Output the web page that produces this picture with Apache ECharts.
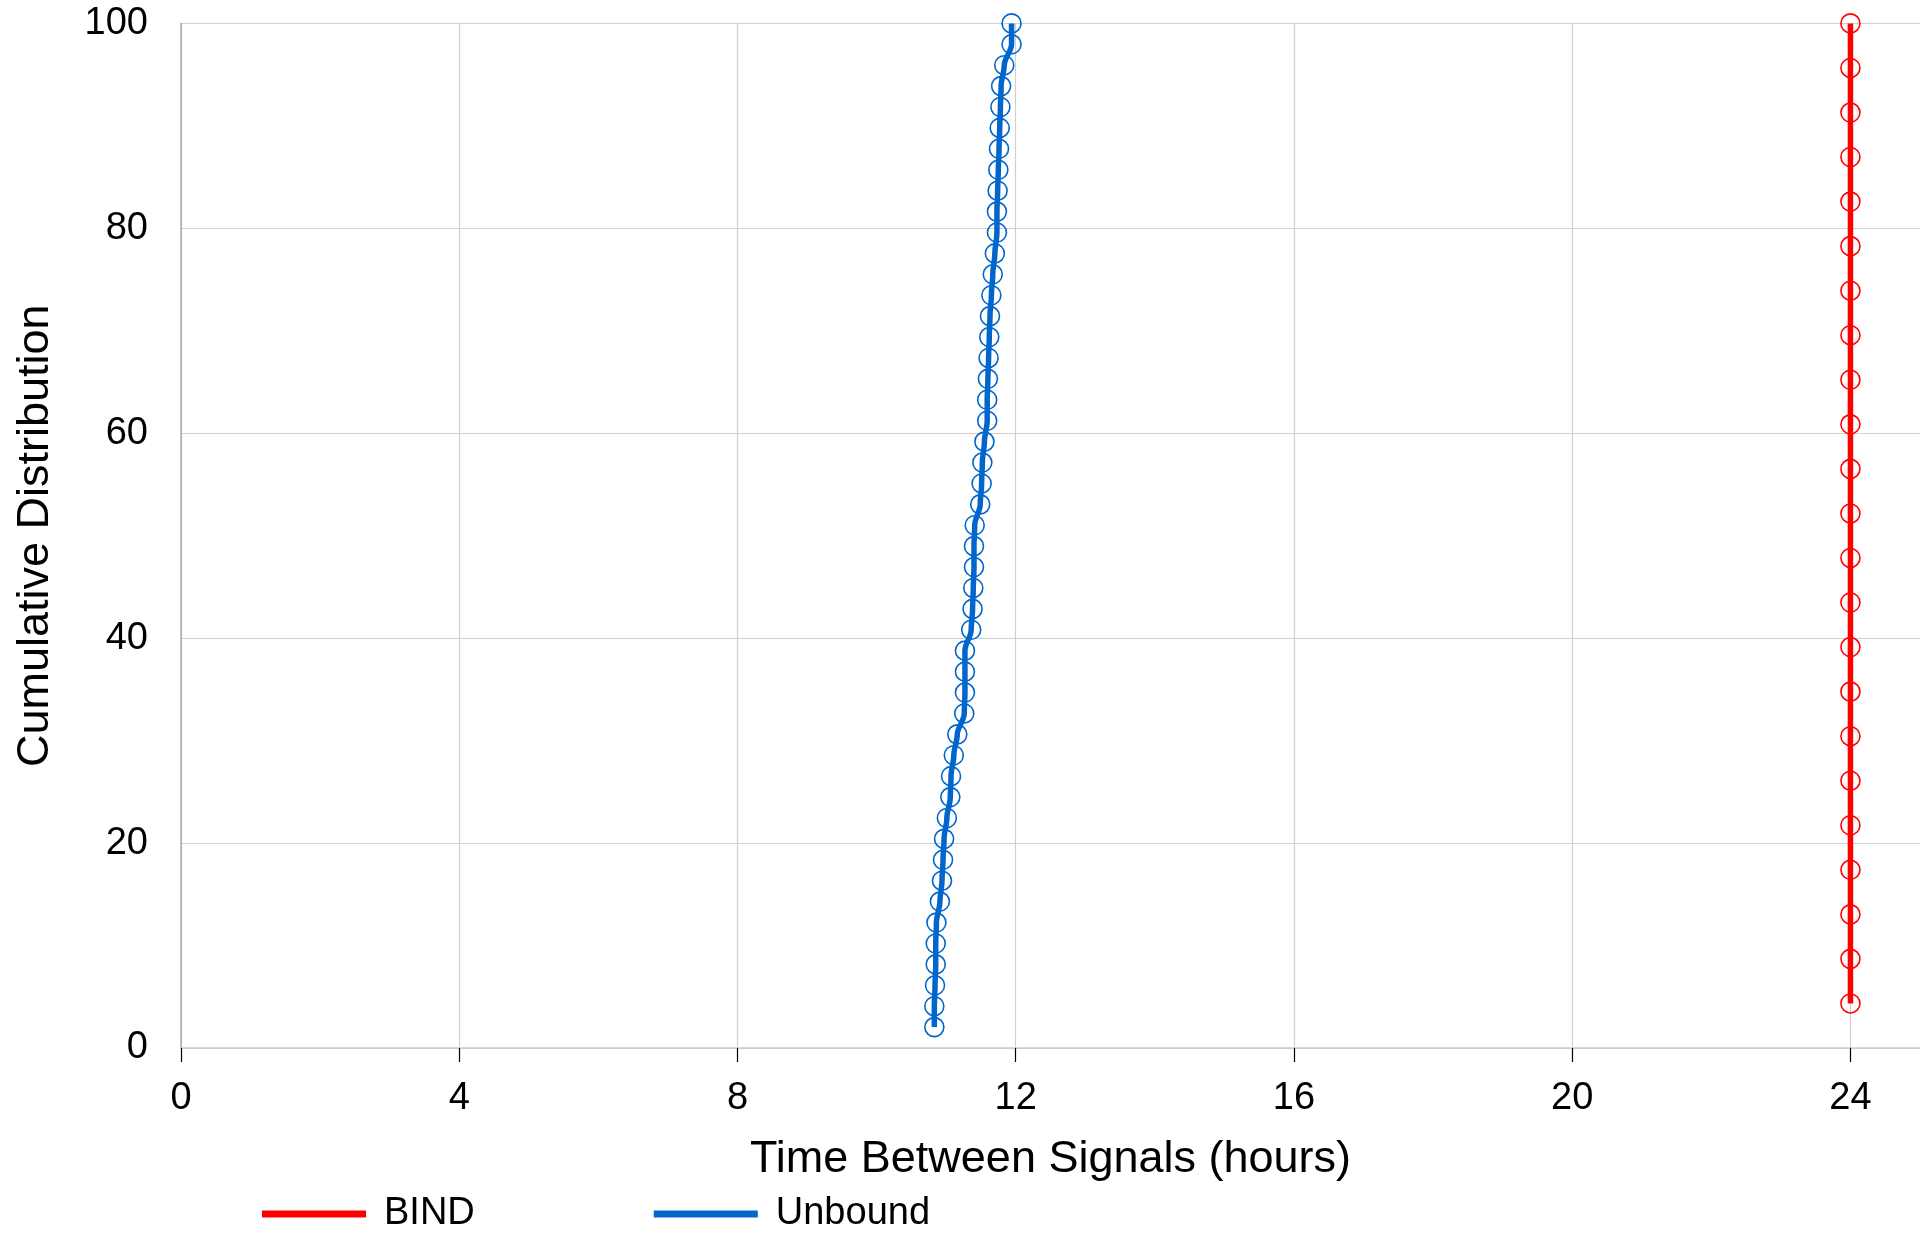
<!DOCTYPE html>
<html>
<head>
<meta charset="utf-8">
<script src="https://cdn.jsdelivr.net/npm/echarts@6/dist/echarts.min.js"></script>
<style>
html,body{margin:0;padding:0;background:#fff;}
#chart{width:1930px;height:1237px;}
</style>
</head>
<body>
<div id="chart"></div>
<script>
// Unbound: time between signals (hours) and cumulative distribution (%)
const unboundX = [10.83,10.83,10.84,10.85,10.85,10.86,10.91,10.94,10.955,10.97,11.01,11.06,11.07,11.11,11.16,11.26,11.27,11.27,11.27,11.36,11.38,11.39,11.40,11.40,11.41,11.49,11.51,11.52,11.55,11.59,11.59,11.60,11.61,11.62,11.63,11.65,11.67,11.70,11.73,11.73,11.74,11.75,11.76,11.77,11.78,11.79,11.835,11.94,11.94];
const unboundY = [2.04,4.08,6.12,8.16,10.20,12.24,14.29,16.33,18.37,20.41,22.45,24.49,26.53,28.57,30.61,32.65,34.69,36.73,38.78,40.82,42.86,44.90,46.94,48.98,51.02,53.06,55.10,57.14,59.18,61.22,63.27,65.31,67.35,69.39,71.43,73.47,75.51,77.55,79.59,81.63,83.67,85.71,87.76,89.80,91.84,93.88,95.92,97.96,100];
// BIND
const bindX = [24,24,24,24,24,24,24,24,24,24,24,24,24,24,24,24,24,24,24,24,24,24,24];
const bindY = [4.35,8.70,13.04,17.39,21.74,26.09,30.43,34.78,39.13,43.48,47.83,52.17,56.52,60.87,65.22,69.57,73.91,78.26,82.61,86.96,91.30,95.65,100];
const xTicks = [0,4,8,12,16,20,24];
const seriesNames = ['BIND','Unbound'];
const xName = 'Time Between Signals (hours)';
const yName = 'Cumulative Distribution';

const RED = '#ff0000', BLUE = '#0066cc';
const FONT = 'Liberation Sans, Arial, Helvetica, sans-serif';
const zip = (xs, ys) => xs.map((x, i) => [x, ys[i]]);

const chart = echarts.init(document.getElementById('chart'), null, {renderer:'canvas'});
chart.setOption({
  animation:false,
  backgroundColor:'#fff',
  textStyle:{fontFamily:FONT, color:'#000'},
  grid:{left:181, right:10, top:23.4, bottom:1237-1048, containLabel:false},
  xAxis:{
    type:'value', min:0, max:25,
    name:xName, nameLocation:'middle', nameGap:89,
    nameTextStyle:{fontSize:45, color:'#000', fontFamily:FONT},
    axisLine:{show:true, lineStyle:{color:'#cccccc', width:1.5}},
    axisTick:{show:true, length:14, lineStyle:{color:'#000', width:1.2}, customValues:xTicks},
    axisLabel:{fontSize:38, color:'#000', margin:32, fontFamily:FONT, customValues:xTicks},
    splitLine:{show:true, lineStyle:{color:'#d0d0d0', width:1.2}}
  },
  yAxis:{
    type:'value', min:0, max:100, interval:20,
    name:yName, nameLocation:'middle', nameGap:123,
    nameTextStyle:{fontSize:45, color:'#000', fontFamily:FONT},
    axisLine:{show:true, lineStyle:{color:'#aaaaaa', width:1.5}},
    axisTick:{show:false},
    axisLabel:{fontSize:38, color:'#000', margin:33, fontFamily:FONT, padding:[8,0,0,0]},
    splitLine:{show:true, lineStyle:{color:'#d0d0d0', width:1.2}}
  },
  legend:{
    left:257, top:1190,
    icon:'rect', itemWidth:102, itemHeight:5, itemGap:179,
    textStyle:{fontSize:38, color:'#000', fontFamily:FONT, padding:[0,0,0,14]},
    data:[
      {name:seriesNames[0], itemStyle:{color:RED}},
      {name:seriesNames[1], itemStyle:{color:BLUE}}
    ]
  },
  series:[
    {
      name:seriesNames[0], type:'line', data:zip(bindX, bindY),
      symbol:'circle', symbolSize:19,
      lineStyle:{color:RED, width:5.5},
      itemStyle:{color:'rgba(0,0,0,0)', borderColor:RED, borderWidth:1.6}
    },
    {
      name:seriesNames[1], type:'line', data:zip(unboundX, unboundY),
      symbol:'circle', symbolSize:19, smooth:0.35, smoothMonotone:'y',
      lineStyle:{color:BLUE, width:5.5},
      itemStyle:{color:'rgba(0,0,0,0)', borderColor:BLUE, borderWidth:1.6}
    }
  ]
});
</script>
</body>
</html>
